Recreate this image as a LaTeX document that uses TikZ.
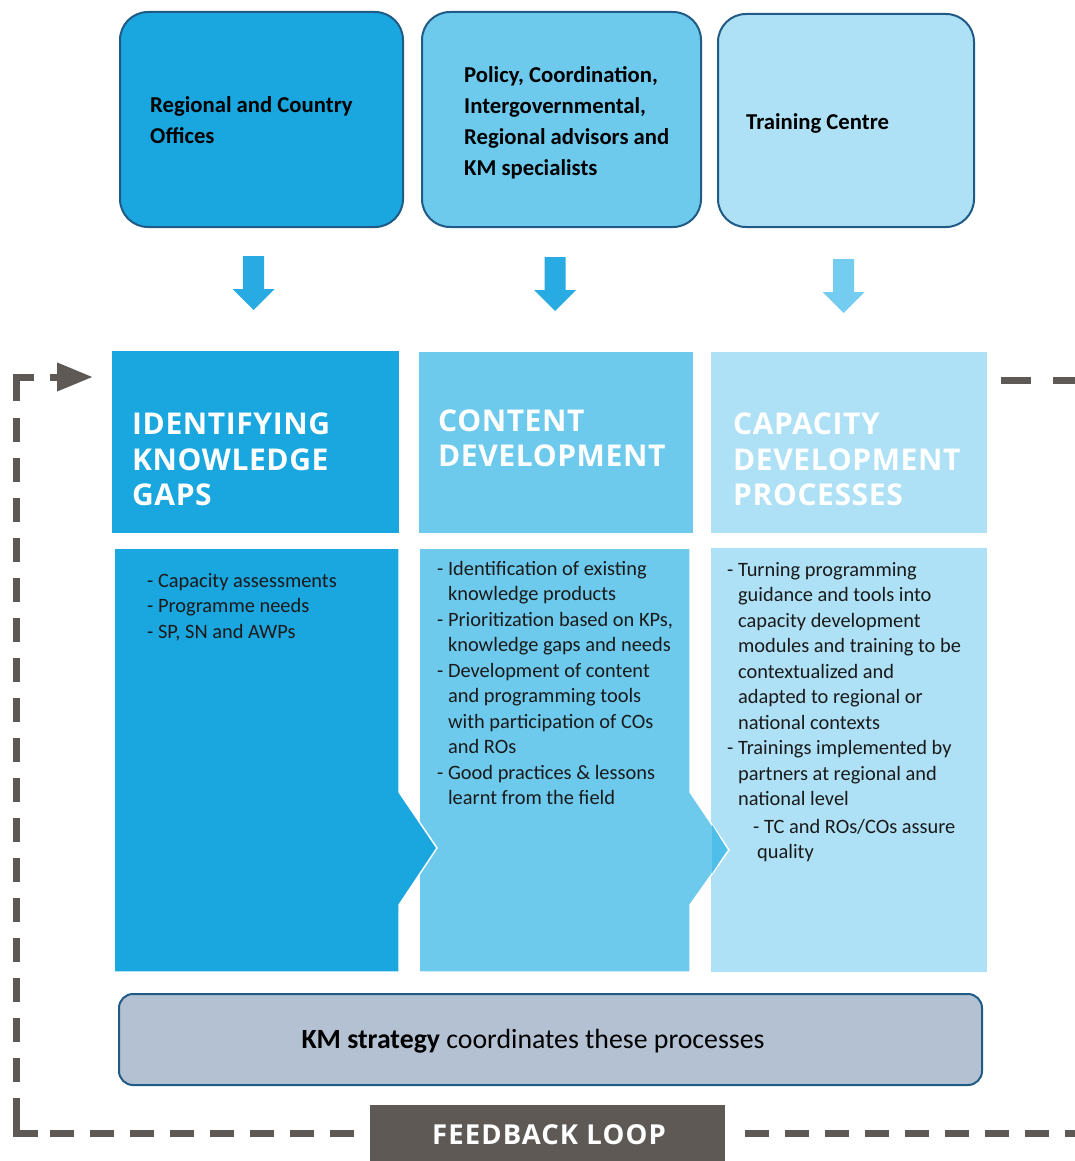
\documentclass[tikz,border=0pt]{standalone}
\usepackage{fontspec}
\setmainfont{Carlito}
\newfontfamily\headfont[LetterSpace=2]{Open Sans}
\newfontfamily\fbfont[LetterSpace=4]{Open Sans}
\usetikzlibrary{arrows.meta,calc}
\definecolor{cDark}{HTML}{1AA6DF}
\definecolor{cMid}{HTML}{6DCAED}
\definecolor{cLight}{HTML}{AEE1F6}
\definecolor{cBorder}{HTML}{1F5B86}
\definecolor{cKM}{HTML}{B4C1D2}
\definecolor{cGrey}{HTML}{5E5954}
\definecolor{cArrow}{HTML}{28ABE2}
\definecolor{cArrowL}{HTML}{74CDF0}
\definecolor{cOver}{HTML}{4FBFEA}
\definecolor{cText}{HTML}{1A1A1A}
\tikzset{
  topbox/.style={draw=cBorder, line width=2pt, rounded corners=28pt, inner sep=0pt},
  toptext/.style={font=\fontsize{22.7}{31}\selectfont\bfseries, align=left, inner sep=0pt, text=black, anchor=west},
  headbox/.style={inner sep=0pt, draw=none},
  headtext/.style={font=\headfont\bfseries\fontsize{30}{35.5}\selectfont, text=white, align=left, inner sep=0pt, anchor=north west},
  bodytext/.style={font=\fontsize{20.4}{25.5}\selectfont, align=left, inner sep=0pt, anchor=north west, text=cText},
  fbline/.style={draw=cGrey, line width=7pt, dash pattern=on 24pt off 16pt},
  fbsolid/.style={draw=cGrey, line width=7pt},
  downarrow/.pic={\fill[pic actions] (-10.5,0) -- (10.5,0) -- (10.5,33) -- (21,33) -- (0,54) -- (-21,33) -- (-10.5,33) -- cycle;}
}
\begin{document}
\begin{tikzpicture}[x=1pt,y=-1pt]
\useasboundingbox (0,0) rectangle (1075,1161);

% top boxes
\node[topbox, fill=cDark, minimum width=283pt, minimum height=215pt] (t1) at (261.5,119.5) {};
\node[topbox, fill=cMid, minimum width=279pt, minimum height=215pt] (t2) at (561.5,119.5) {};
\node[topbox, fill=cLight, minimum width=256pt, minimum height=213pt] (t3) at (846,120.5) {};
\node[toptext] (t1txt) at (150,120) {Regional and Country\\Offices};
\node[toptext] (t2txt) at (464,122.5) {Policy, Coordination,\\Intergovernmental,\\Regional advisors and\\KM specialists};
\node[toptext] (t3txt) at (746,123) {Training Centre};

% block arrows
\pic[fill=cArrow] at (253.5,256) {downarrow};
\pic[fill=cArrow] at (555,257) {downarrow};
\pic[fill=cArrowL] at (843.5,259) {downarrow};

% header boxes
\node[headbox, fill=cDark, minimum width=287pt, minimum height=182pt] (h1) at (255.5,442) {};
\node[headbox, fill=cMid, minimum width=274pt, minimum height=181pt] (h2) at (556,442.5) {};
\node[headbox, fill=cLight, minimum width=276pt, minimum height=181pt] (h3) at (849,442.5) {};
\node[headtext] (h1txt) at (132,413) {IDENTIFYING\\KNOWLEDGE\\GAPS};
\node[headtext] (h2txt) at (438,409.5) {CONTENT\\DEVELOPMENT};
\node[headtext] (h3txt) at (733,413) {CAPACITY\\DEVELOPMENT\\PROCESSES};

% body shapes
\fill[cLight] (711,548) rectangle (987,972);
\filldraw[fill=cMid, draw=white, line width=1.5pt] (419,548) -- (690,548) -- (690,792) -- (729,850) -- (690,905) -- (690,972) -- (419,972) -- cycle;
\fill[cOver] (712,824.5) -- (727,849.5) -- (712,873.5) -- cycle;
\filldraw[fill=cDark, draw=white, line width=1.5pt] (114,548) -- (399,548) -- (399,792) -- (437,848) -- (399,905) -- (399,972) -- (114,972) -- cycle;

% body texts
\node[bodytext] (b1txt) at (147,573) {- Capacity assessments\\- Programme needs\\- SP, SN and AWPs};
\node[bodytext] (b2txt) at (437,561) {- Identification of existing\\\hphantom{- }knowledge products\\- Prioritization based on KPs,\\\hphantom{- }knowledge gaps and needs\\- Development of content\\\hphantom{- }and programming tools\\\hphantom{- }with participation of COs\\\hphantom{- }and ROs\\- Good practices \& lessons\\\hphantom{- }learnt from the field};
\node[bodytext] (b3txt) at (727,562) {- Turning programming\\\hphantom{- }guidance and tools into\\\hphantom{- }capacity development\\\hphantom{- }modules and training to be\\\hphantom{- }contextualized and\\\hphantom{- }adapted to regional or\\\hphantom{- }national contexts\\- Trainings implemented by\\\hphantom{- }partners at regional and\\\hphantom{- }national level\\[2pt]\hspace*{26pt}- TC and ROs/COs assure\\\hspace*{30pt}quality};

% KM strategy box
\node[draw=cBorder, line width=2pt, fill=cKM, rounded corners=14pt, minimum width=863pt, minimum height=91pt, inner sep=0pt] (km) at (550.5,1039.5) {};
\node[font=\fontsize{27.8}{32}\selectfont, text=black, inner sep=0pt] (kmtxt) at (533,1041) {\textbf{KM strategy} coordinates these processes};

% feedback loop box
\node[fill=cGrey, minimum width=355pt, minimum height=56pt, inner sep=0pt] (fb) at (547.5,1133) {};
\node[font=\fbfont\bfseries\fontsize{27.5}{30}\selectfont, text=white, inner sep=0pt] (fbtxt) at (549,1135) {FEEDBACK LOOP};

% feedback loop dashed line
\coordinate (c1) at (16,377);
\coordinate (c2) at (16,1133);
\coordinate (fbin) at (93,377);
\coordinate (rt) at (1075,380);
\coordinate (rb) at (1075,1133);
\draw[fbline, dash pattern=on 22pt off 22pt on 30pt off 200pt] (rt) -- (1001,380);
\draw[fbline] ($(fb.east)+(20,0)$) -- (rb);
\draw[fbline] ($(c2)+(34,0)$) -- ($(fb.west)+(-15,0)$);
\draw[fbline] ($(c1)+(0,41)$) -- ($(c2)+(0,-24)$);
\draw[fbsolid] ($(c1)+(18,0)$) -- (c1) -- ($(c1)+(0,24)$);
\draw[fbsolid] ($(c2)+(0,-24)$) -- (c2) -- ($(c2)+(22,0)$);
\draw[fbsolid, -{Triangle[length=36pt,width=27pt]}] (50,377) -- (fbin);
\end{tikzpicture}
\end{document}
